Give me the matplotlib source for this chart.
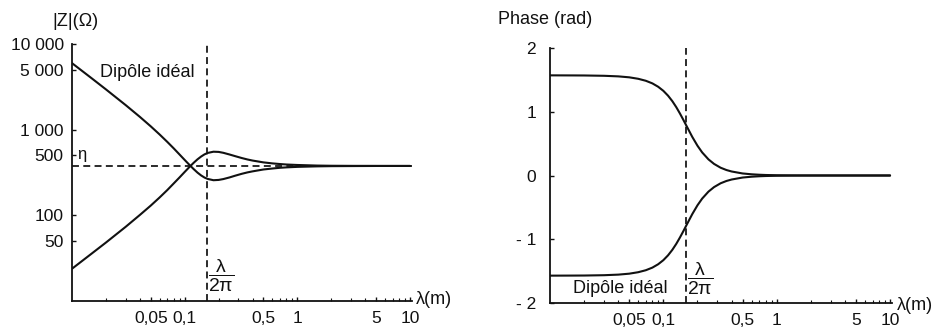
import matplotlib
matplotlib.use('Agg')
import matplotlib.pyplot as plt
from matplotlib.ticker import LogLocator, NullFormatter, FixedLocator, FixedFormatter

plt.rcParams['font.family'] = ['Liberation Sans', 'DejaVu Sans']
plt.rcParams['mathtext.fontset'] = 'custom'
plt.rcParams['mathtext.rm'] = 'Liberation Sans'
plt.rcParams['mathtext.it'] = 'Liberation Sans'
plt.rcParams['mathtext.bf'] = 'Liberation Sans:bold'

# ---- data ----
r = [0.01, 0.015, 0.02, 0.03, 0.04, 0.05, 0.06, 0.07, 0.08, 0.09, 0.10, 0.11,
     0.12, 0.13, 0.14, 0.15, 0.16, 0.18, 0.20, 0.22, 0.25, 0.28, 0.32, 0.36,
     0.40, 0.50, 0.60, 0.70, 0.80, 1.0, 1.5, 2.0, 3.0, 5.0, 10.0]
z_electric = [5977, 3965, 2953, 1931, 1411, 1093, 877, 721, 604, 513, 443, 389,
              347, 315, 292, 276, 266, 257, 259, 265, 277, 290, 305, 317,
              326, 343, 352, 359, 363, 368, 373, 375, 376, 377, 377]
z_magnetic = [23.8, 35.9, 48.1, 73.6, 101, 130, 162, 197, 236, 277, 321, 366,
              410, 451, 486, 515, 535, 553, 550, 537, 513, 491, 467, 449,
              436, 415, 404, 397, 392, 387, 381, 379, 378, 377, 377]
phase_magnetic = [1.571, 1.570, 1.569, 1.564, 1.555, 1.540, 1.517, 1.486, 1.445,
                  1.392, 1.328, 1.252, 1.166, 1.072, 0.973, 0.874, 0.778, 0.605,
                  0.467, 0.362, 0.253, 0.182, 0.122, 0.086, 0.063, 0.032, 0.019,
                  0.012, 0.008, 0.004, 0.001, 0.0005, 0.0, 0.0, 0.0]
phase_electric = [-1.571, -1.570, -1.569, -1.564, -1.555, -1.540, -1.517, -1.486,
                  -1.445, -1.392, -1.328, -1.252, -1.166, -1.072, -0.973, -0.874,
                  -0.778, -0.605, -0.467, -0.362, -0.253, -0.182, -0.122, -0.086,
                  -0.063, -0.032, -0.019, -0.012, -0.008, -0.004, -0.001, -0.0005,
                  0.0, 0.0, 0.0]
eta = 377
r_limit = 0.159  # lambda / 2 pi

x_ticks = [0.05, 0.1, 0.5, 1, 5, 10]
x_ticklabels = ['0,05', '0,1', '0,5', '1', '5', '10']
z_ticks = [50, 100, 500, 1000, 5000, 10000]
z_ticklabels = ['50', '100', '500', '1 000', '5 000', '10 000']
p_ticks = [-2, -1, 0, 1, 2]
p_ticklabels = ['- 2', '- 1', '0', '1', '2']

W, H = 950, 336
fig = plt.figure(figsize=(W / 100, H / 100), dpi=100)
fig.patch.set_facecolor('white')

ink = '#111111'
lw_curve = 1.5
lw_dash = 1.25
dash = (4, 2.5)
fs_tick = 12.5
fs_text = 13


def style_axis(ax):
    for s in ['top', 'right']:
        ax.spines[s].set_visible(False)
    for s in ['left', 'bottom']:
        ax.spines[s].set_linewidth(1.3)
        ax.spines[s].set_color(ink)
    ax.set_xscale('log')
    ax.set_xlim(0.01, 10.4)
    ax.xaxis.set_major_locator(FixedLocator(x_ticks))
    ax.xaxis.set_major_formatter(FixedFormatter(x_ticklabels))
    ax.xaxis.set_minor_locator(LogLocator(base=10, subs=list(range(2, 10))))
    ax.xaxis.set_minor_formatter(NullFormatter())
    ax.tick_params(axis='both', which='major', direction='in', length=3,
                   width=1.0, colors=ink, labelsize=fs_tick)
    ax.tick_params(axis='x', which='minor', direction='in', length=2, width=0.8,
                   colors=ink)
    ax.tick_params(axis='x', which='major', pad=7)
    ax.tick_params(axis='y', which='major', pad=6)
    ax.set_facecolor('none')


# ---- left: |Z| ----
ax1 = fig.add_axes([72 / W, 1 - 301 / H, 340 / W, 257 / H])
style_axis(ax1)
ax1.set_yscale('log')
ax1.set_ylim(10, 10000)
ax1.yaxis.set_major_locator(FixedLocator(z_ticks))
ax1.yaxis.set_major_formatter(FixedFormatter(z_ticklabels))
ax1.yaxis.set_minor_locator(FixedLocator([]))
ax1.plot(r, z_electric, color=ink, lw=lw_curve, solid_capstyle='round')
ax1.plot(r, z_magnetic, color=ink, lw=lw_curve, solid_capstyle='round')
ax1.axhline(eta, color=ink, lw=lw_dash, dashes=dash)
ax1.axvline(r_limit, color=ink, lw=lw_dash, dashes=dash)
ax1.text(0.047, 4600, 'Dipôle idéal', ha='center', va='center', fontsize=fs_text, color=ink)
ax1.text(0.0112, eta * 1.1, 'η', ha='left', va='bottom', fontsize=12, color=ink)
ax1.text(r_limit * 1.02, 19.5, r'$\dfrac{\lambda}{2\pi}$', ha='left', va='center',
         fontsize=14, color=ink)

# ---- right: phase ----
ax2 = fig.add_axes([550 / W, 1 - 303 / H, 342 / W, 255 / H])
style_axis(ax2)
ax2.set_ylim(-2, 2)
ax2.yaxis.set_major_locator(FixedLocator(p_ticks))
ax2.yaxis.set_major_formatter(FixedFormatter(p_ticklabels))
ax2.tick_params(axis='y', which='major', pad=10)
ax2.plot(r, phase_magnetic, color=ink, lw=lw_curve, solid_capstyle='round')
ax2.plot(r, phase_electric, color=ink, lw=lw_curve, solid_capstyle='round')
ax2.axvline(r_limit, color=ink, lw=lw_dash, dashes=dash)
ax2.text(0.042, -1.77, 'Dipôle idéal', ha='center', va='center', fontsize=fs_text, color=ink)
ax2.text(r_limit * 1.02, -1.63, r'$\dfrac{\lambda}{2\pi}$', ha='left', va='center',
         fontsize=14, color=ink)

# ---- axis titles ----
fig.text(52 / W, 1 - 22 / H, '|Z|(Ω)', ha='left', va='center', fontsize=fs_text, color=ink)
fig.text(498 / W, 1 - 20 / H, 'Phase (rad)', ha='left', va='center', fontsize=fs_text, color=ink)
fig.text(416 / W, 1 - 299 / H, 'λ(m)', ha='left', va='center', fontsize=fs_text, color=ink)
fig.text(897 / W, 1 - 305 / H, 'λ(m)', ha='left', va='center', fontsize=fs_text, color=ink)

fig.savefig('out.png', dpi=100, facecolor='white')
